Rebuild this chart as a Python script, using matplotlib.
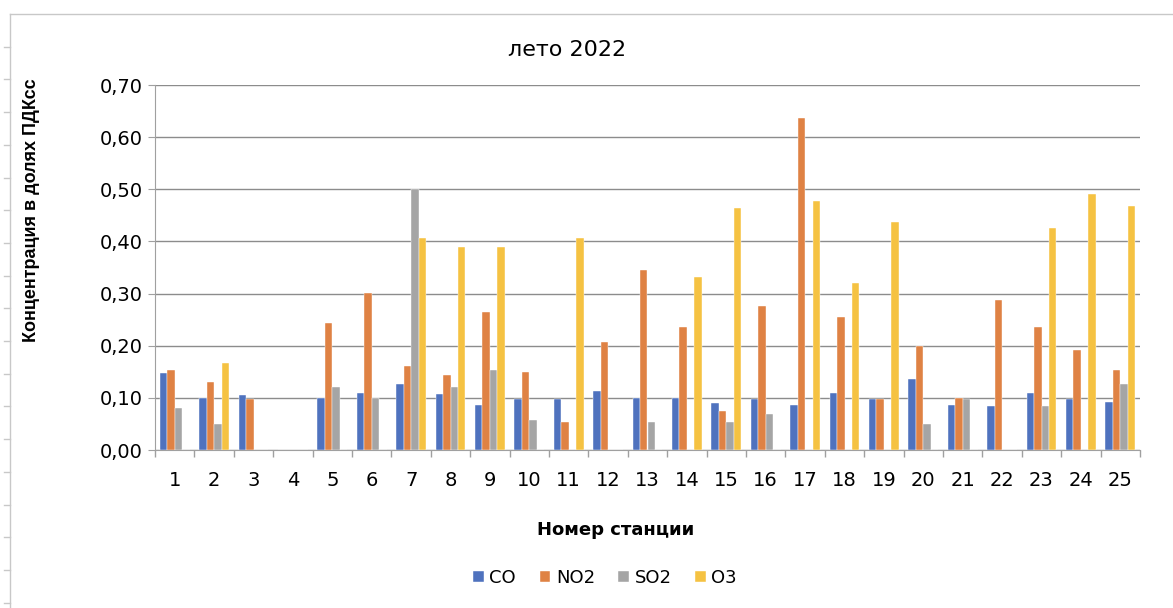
import matplotlib.pyplot as plt
from matplotlib.lines import Line2D
from matplotlib.ticker import FixedLocator, FuncFormatter
import numpy as np

stations = list(range(1, 26))
co = [0.147, 0.100, 0.105, 0.0, 0.100, 0.110, 0.127, 0.107, 0.086, 0.097,
      0.097, 0.114, 0.100, 0.100, 0.090, 0.097, 0.086, 0.110, 0.097, 0.137,
      0.086, 0.084, 0.110, 0.097, 0.093]
no2 = [0.153, 0.130, 0.097, 0.0, 0.244, 0.302, 0.162, 0.143, 0.264, 0.150,
       0.054, 0.207, 0.345, 0.236, 0.075, 0.277, 0.637, 0.256, 0.097, 0.200,
       0.100, 0.288, 0.236, 0.191, 0.153]
so2 = [0.081, 0.050, 0.0, 0.0, 0.121, 0.100, 0.501, 0.121, 0.153, 0.058,
       0.0, 0.0, 0.054, 0.0, 0.054, 0.070, 0.0, 0.0, 0.0, 0.050,
       0.097, 0.0, 0.084, 0.0, 0.127]
o3 = [0.0, 0.167, 0.0, 0.0, 0.0, 0.0, 0.407, 0.390, 0.390, 0.0,
      0.407, 0.0, 0.0, 0.332, 0.464, 0.0, 0.478, 0.320, 0.437, 0.0,
      0.0, 0.0, 0.426, 0.491, 0.467]

series = [("CO", co, "#4F72BE"), ("NO2", no2, "#DF8244"),
          ("SO2", so2, "#A5A5A5"), ("O3", o3, "#F5C242")]

plt.rcParams['font.family'] = ['DejaVu Sans']

W, H = 1173, 608
fig = plt.figure(figsize=(W / 100, H / 100), dpi=100)
ax = fig.add_axes([155 / W, 1 - 450 / H, 985 / W, 365 / H])

x = np.array(stations)
w = 0.19
for i, (name, vals, col) in enumerate(series):
    ax.bar(x + (i - 1.5) * w, vals, width=w, color=col, label=name,
           edgecolor='white', linewidth=0.3, zorder=3)

ax.set_xlim(0.5, 25.5)
ax.set_ylim(0, 0.70)
ax.set_yticks(np.arange(0, 0.71, 0.1))
ax.yaxis.set_major_formatter(FuncFormatter(lambda v, p: f"{v:.2f}".replace('.', ',')))
ax.set_xticks(x)
ax.set_xticklabels([str(s) for s in stations])
ax.xaxis.set_minor_locator(FixedLocator(np.arange(0.5, 26, 1)))
ax.tick_params(axis='x', which='major', length=0, labelsize=14, pad=15)
ax.tick_params(axis='x', which='minor', length=5, color='#A0A0A0', width=1)
ax.tick_params(axis='y', length=5, color='#A0A0A0', labelsize=14, pad=4)

ax.grid(axis='y', color='#8C8C8C', linewidth=1, zorder=0)
for s in ['top', 'right']:
    ax.spines[s].set_visible(False)
ax.spines['left'].set_color('#A0A0A0')
ax.spines['bottom'].set_color('#A0A0A0')

fig.text(567 / W, 1 - 50 / H, "лето 2022", fontsize=16, ha='center', va='center')
ax.set_xlabel("Номер станции", fontsize=13, fontweight='bold')
ax.xaxis.set_label_coords(0.468, -0.195)
ax.set_ylabel("Концентрация в долях ПДКсс", fontsize=13, fontweight='bold',
              family=['Liberation Sans', 'DejaVu Sans'])
ax.yaxis.set_label_coords(-0.117, 0.658)

ax.legend(loc='center', bbox_to_anchor=(0.457, -0.35), ncol=4, frameon=False,
          fontsize=13, handlelength=0.6, handleheight=0.6, handletextpad=0.3,
          columnspacing=1.3)

# sheet frame around the chart object
fig.add_artist(Line2D([10 / W, 1], [1 - 14 / H] * 2, color='#C8C8C8', lw=1))
fig.add_artist(Line2D([10 / W] * 2, [0, 1 - 14 / H], color='#C8C8C8', lw=1))
for yp in np.arange(46.7, H, 32.7):
    fig.add_artist(Line2D([4 / W, 10 / W], [1 - yp / H] * 2,
                          color='#C8C8C8', lw=1))

fig.savefig("out.png", dpi=100)
